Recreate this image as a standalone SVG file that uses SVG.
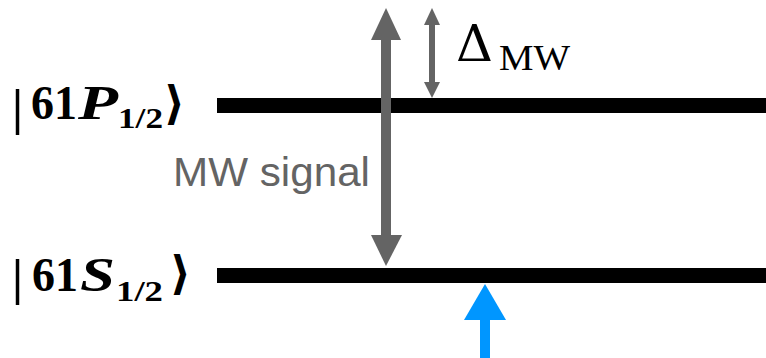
<svg xmlns="http://www.w3.org/2000/svg" width="766" height="358" viewBox="0 0 766 358">
<style>
.ket{font-family:"Liberation Serif","DejaVu Serif",serif;font-weight:bold;fill:#000;font-size:48px}
.bar{font-size:50px}
.st{font-style:italic}
.sub{font-size:29px}
.ang{font-family:"DejaVu Serif",serif;font-size:46px}
.gray{fill:#646464}
.lvl{fill:#000}
</style>
<rect width="766" height="358" fill="#fff"/>
<g id="level-P">
<rect class="lvl" x="217" y="98" width="549" height="15"/>
<text class="ket" y="119"><tspan class="bar" x="12" y="124">|</tspan><tspan x="31" y="119" textLength="46" lengthAdjust="spacingAndGlyphs">61</tspan><tspan class="st" x="78" textLength="40" lengthAdjust="spacingAndGlyphs">P</tspan><tspan class="sub" x="118" y="128" textLength="45" lengthAdjust="spacingAndGlyphs">1/2</tspan><tspan class="ang" x="164" y="119">⟩</tspan></text>
</g>
<g id="level-S">
<rect class="lvl" x="217" y="268" width="549" height="15"/>
<text class="ket" y="291"><tspan class="bar" x="12" y="294">|</tspan><tspan x="32" y="291" textLength="46" lengthAdjust="spacingAndGlyphs">61</tspan><tspan class="st" x="80" textLength="35" lengthAdjust="spacingAndGlyphs">S</tspan><tspan class="sub" x="116" y="301" textLength="47" lengthAdjust="spacingAndGlyphs">1/2</tspan><tspan class="ang" x="170" y="289">⟩</tspan></text>
</g>
<g id="connectors">
<g id="mw-arrow" class="gray">
<rect x="381" y="39" width="10" height="198"/>
<polygon points="386,8 371,40 401,40"/>
<polygon points="386,266 371,235 402,235"/>
</g>
<g id="detuning-arrow" class="gray">
<rect x="429" y="24" width="6" height="59"/>
<polygon points="432,8 424,25 440,25"/>
<polygon points="432,98 424,82 440,82"/>
</g>
<g id="probe-arrow" fill="#0096ff">
<rect x="480" y="318" width="10" height="40"/>
<polygon points="485,284 464,320 506,320"/>
</g>
</g>
<g id="labels">
<text x="173" y="186" font-family="Liberation Sans,Arial,sans-serif" font-size="41.5" fill="#646464" textLength="197" lengthAdjust="spacingAndGlyphs">MW signal</text>
<text font-family="DejaVu Serif,serif" fill="#000"><tspan x="456" y="61" font-size="50" textLength="37" lengthAdjust="spacingAndGlyphs">Δ</tspan><tspan x="499" y="70" font-family="Liberation Serif,serif" font-size="36" textLength="71" lengthAdjust="spacingAndGlyphs">MW</tspan></text>
</g>
</svg>
